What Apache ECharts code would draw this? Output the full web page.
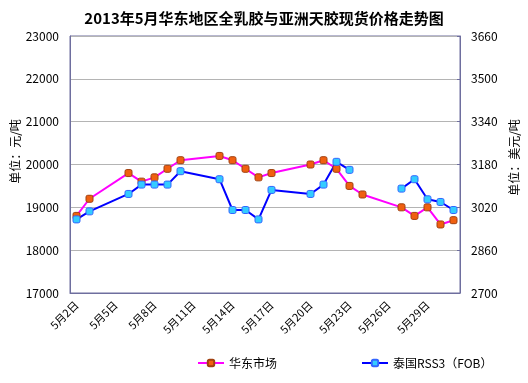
<!DOCTYPE html>
<html><head><meta charset="utf-8">
<script src="https://cdn.jsdelivr.net/npm/echarts@6/dist/echarts.min.js"></script>
<style>html,body{margin:0;padding:0;background:#fff}#c{width:528px;height:383px}</style>
</head><body><div id="c"></div>
<script>
var days = [];
for (var d = 2; d <= 31; d++) days.push('5月' + d + '日');
var pinkDates = [2,3,6,7,8,9,10,13,14,15,16,17,20,21,22,23,24,27,28,29,30,31];
var pinkValues = [18800,19200,19800,19600,19700,19900,20100,20200,20100,19900,19700,19800,20000,20100,19900,19500,19300,19000,18800,19000,18600,18700];
var blueDates = [2,3,6,7,8,9,10,13,14,15,16,17,20,21,22,23,24,27,28,29,30,31];
var blueValues = [2975,3005,3070,3105,3105,3105,3155,3125,3010,3010,2975,3085,3070,3105,3190,3160,null,3090,3125,3050,3040,3010];
var title = '2013年5月华东地区全乳胶与亚洲天胶现货价格走势图';
var seriesNames = ['华东市场', '泰国RSS3（FOB）'];

function pairs(ds, vs) {
  return ds.map(function (d, i) { return ['5月' + d + '日', vs[i] == null ? '-' : vs[i]]; });
}
var font = '"Noto Sans CJK SC", sans-serif';
var chart = echarts.init(document.getElementById('c'));
chart.setOption({
  animation: false,
  textStyle: { fontFamily: font },
  title: { text: title, left: 'center', top: 6, textStyle: { fontSize: 15, fontWeight: 'bold', color: '#000', fontFamily: font } },
  grid: { left: 70, right: 68, top: 36, bottom: 90, outerBoundsMode: 'none', containLabel: false, show: true, borderColor: '#6E6E9E', borderWidth: 1, backgroundColor: 'transparent' },
  legend: {
    bottom: 9, left: 192, itemGap: 84, itemWidth: 26, itemHeight: 8,
    textStyle: { fontSize: 12, color: '#000', fontFamily: font },
    data: seriesNames
  },
  xAxis: {
    type: 'category', data: days, boundaryGap: true,
    axisLine: { lineStyle: { color: '#6E6E9E', width: 1 } },
    axisTick: { inside: true, length: 4, interval: 2, lineStyle: { color: '#6E6E9E' } },
    axisLabel: { interval: 2, rotate: 45, fontSize: 11, color: '#000', margin: 10, fontFamily: font },
    splitLine: { show: false }
  },
  yAxis: [{
    type: 'value', min: 17000, max: 23000, interval: 1000,
    name: '单位：元/吨', nameLocation: 'middle', nameRotate: 90, nameGap: 49, nameMoveOverlap: false,
    nameTextStyle: { fontSize: 12, color: '#000', fontFamily: font, padding: [0, 0, 0, 26] },
    axisLine: { show: true, lineStyle: { color: '#6E6E9E' } },
    axisTick: { show: false },
    axisLabel: { fontSize: 12, color: '#000', margin: 11, fontFamily: font, formatter: function (v) { return String(v); } },
    splitLine: { lineStyle: { color: '#B4B4B4' } }
  }, {
    type: 'value', min: 2700, max: 3660, interval: 160,
    name: '单位：美元/吨', nameLocation: 'middle', nameRotate: 90, nameGap: 47,
    nameTextStyle: { fontSize: 12, color: '#000', fontFamily: font, padding: [0, 0, 0, 14] },
    axisLine: { show: true, lineStyle: { color: '#6E6E9E' } },
    axisTick: { show: true, inside: true, length: 3, lineStyle: { color: '#6E6E9E' } },
    axisLabel: { fontSize: 12, color: '#000', margin: 11, fontFamily: font, formatter: function (v) { return String(v); } },
    splitLine: { show: false }
  }],
  series: [{
    name: seriesNames[0], type: 'line', yAxisIndex: 0,
    data: pairs(pinkDates, pinkValues),
    symbol: 'roundRect', symbolSize: 7,
    lineStyle: { color: '#FF00FF', width: 2 },
    itemStyle: { color: '#F06010', borderColor: '#A04010', borderWidth: 1 }
  }, {
    name: seriesNames[1], type: 'line', yAxisIndex: 1,
    data: pairs(blueDates, blueValues), connectNulls: false,
    symbol: 'roundRect', symbolSize: 7,
    lineStyle: { color: '#0000FF', width: 2 },
    itemStyle: { color: '#33CCFF', borderColor: '#3366FF', borderWidth: 1 }
  }]
});
</script></body></html>
